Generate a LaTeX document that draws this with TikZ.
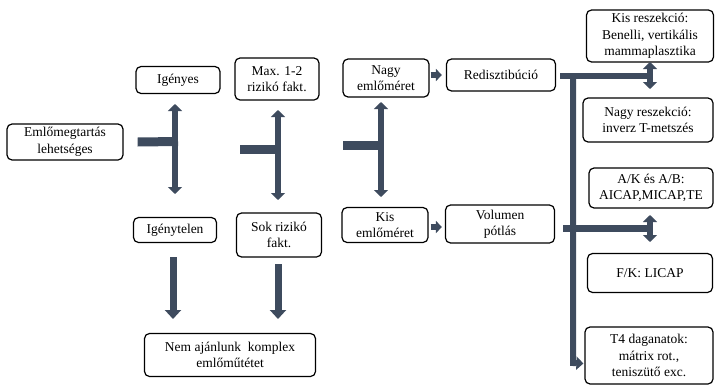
\documentclass[tikz,border=0pt]{standalone}
\usepackage{fontspec}
\setmainfont{Liberation Serif}
\usetikzlibrary{arrows.meta,calc}
\definecolor{arrowcol}{HTML}{3E4B5E}
\tikzset{
  box/.style={draw, rounded corners=5pt, line width=1.2pt, align=center, inner sep=0pt,
    font=\fontsize{13.5}{16.5}\selectfont},
  tbar/.style={draw=arrowcol, line width=9pt},
  hbar/.style={draw=arrowcol, line width=6pt},
  dblarrow/.style={draw=arrowcol, line width=6.5pt,
    {Triangle[length=7pt,width=14pt]}-{Triangle[length=7pt,width=14pt]}},
  smallarrow/.style={draw=arrowcol, line width=6pt, -{Triangle[length=6pt,width=12pt]}},
  bigarrow/.style={draw=arrowcol, line width=7pt, -{Triangle[length=9pt,width=16pt]}},
  cornerarrow/.style={draw=arrowcol, line width=6pt, line join=miter, -{Triangle[length=7pt,width=13pt]}}
}
\begin{document}
\begin{tikzpicture}[x=1pt,y=-1pt]
\useasboundingbox (0,0) rectangle (716,386);
% nodes
\node[box, minimum width=116pt, minimum height=36pt] (emlo) at (65,142) {Emlőmegtartás\\lehetséges};
\node[box, minimum width=84pt, minimum height=27pt] (igenyes) at (178,80) {Igényes};
\node[box, minimum width=84pt, minimum height=42pt] (max) at (277,79) {Max. 1-2\\rizikó fakt.};
\node[box, minimum width=83pt, minimum height=25pt] (igenytelen) at (175,230) {Igénytelen};
\node[box, minimum width=85pt, minimum height=44pt] (sok) at (279,235) {Sok rizikó\\fakt.};
\node[box, minimum width=86pt, minimum height=38pt] (nagy) at (386,78) {Nagy\\emlőméret};
\node[box, minimum width=109pt, minimum height=32pt] (redisz) at (501,75) {Redisztibúció};
\node[box, minimum width=127pt, minimum height=52pt] (kisresz) at (650,36) {Kis reszekció:\\Benelli, vertikális\\mammaplasztika};
\node[box, minimum width=130pt, minimum height=44pt] (nagyresz) at (648,120) {Nagy reszekció:\\inverz T-metszés};
\node[box, minimum width=124pt, minimum height=40pt] (akab) at (651,188) {A/K és A/B:\\AICAP,MICAP,TE};
\node[box, minimum width=86pt, minimum height=35pt] (kis) at (385,225) {Kis\\emlőméret};
\node[box, minimum width=109pt, minimum height=38pt] (volumen) at (500,224) {Volumen\\pótlás};
\node[box, minimum width=125pt, minimum height=39pt] (fk) at (650,273) {F/K: LICAP};
\node[box, minimum width=128pt, minimum height=57pt] (t4) at (649,355.5) {T4 daganatok:\\mátrix rot.,\\teniszütő exc.};
\node[box, minimum width=171pt, minimum height=43pt] (nem) at (230,355) {Nem ajánlunk\ \ komplex\\emlőműtétet};

% T-junction 1
\coordinate (j1) at (175,141.5);
\coordinate (j1t) at (175,104);
\coordinate (j1b) at (175,194);
\draw[tbar] ($(emlo.east)+(14,0)$) -- ($(j1)+(3,0)$);
\draw[dblarrow] (j1t) -- (j1b);
% T-junction 2
\coordinate (j2) at (278,149);
\coordinate (j2t) at (278,110);
\coordinate (j2b) at (278,200);
\draw[tbar] ($(j2)+(-38,0)$) -- ($(j2)+(3,0)$);
\draw[dblarrow] (j2t) -- (j2b);
% T-junction 3
\coordinate (j3) at (381,145);
\coordinate (j3t) at (381,102);
\coordinate (j3b) at (381,197);
\draw[tbar] ($(j3)+(-38,0)$) -- ($(j3)+(3,0)$);
\draw[dblarrow] (j3t) -- (j3b);

% small arrows
\draw[smallarrow] ($(nagy.east)+(1,-3)$) -- ($(redisz.west)+(-4,0)$);
\draw[smallarrow] ($(kis.east)+(2,2)$) -- ($(volumen.west)+(-3,3)$);

% right side branches
\coordinate (r1) at (650,76);
\coordinate (r1t) at (650,62);
\coordinate (r1b) at (650,89);
\draw[hbar] ($(redisz.east)+(4,1)$) -- (r1);
\draw[dblarrow] (r1t) -- (r1b);
\coordinate (v1) at (573,76);
\coordinate (v2) at (573,363);
\draw[cornerarrow] ($(v1)+(0,-3)$) -- (v2) -- ($(t4.west)+(-1,8)$);
\coordinate (r2) at (649,228);
\coordinate (r2t) at (650,215);
\coordinate (r2b) at (650,242);
\draw[hbar, line width=7pt] ($(volumen.east)+(8,4)$) -- (r2);
\draw[dblarrow] (r2t) -- (r2b);

% big down arrows
\draw[bigarrow] (173,257) -- (173,319);
\draw[bigarrow] (278,264) -- (278,319);
\end{tikzpicture}
\end{document}
